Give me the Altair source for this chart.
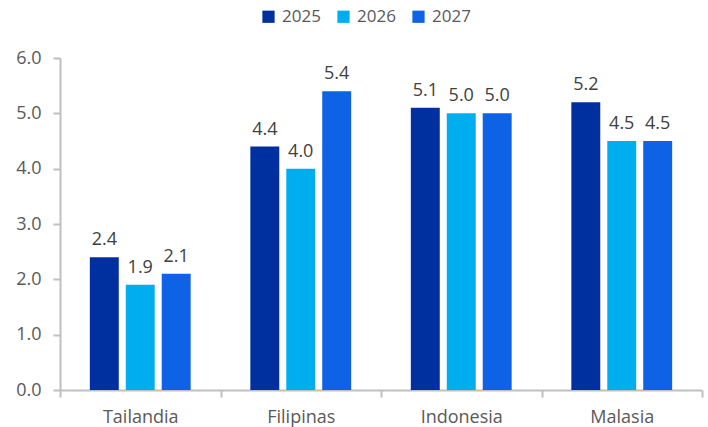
import altair as alt
import pandas as pd

countries = ["Tailandia", "Filipinas", "Indonesia", "Malasia"]
years = ["2025", "2026", "2027"]
v2025 = [2.4, 4.4, 5.1, 5.2]
v2026 = [1.9, 4.0, 5.0, 4.5]
v2027 = [2.1, 5.4, 5.0, 4.5]
colors = ["#0030a0", "#00aeef", "#0e62e6"]

rows = []
for i, c in enumerate(countries):
    for y, vals in zip(years, [v2025, v2026, v2027]):
        rows.append({"country": c, "year": y, "value": vals[i]})
df = pd.DataFrame(rows)

FONT = "Open Sans"
GRAY = "#595959"
AX = "#bfbfbf"

base = alt.Chart(df).encode(
    x=alt.X("country:N", sort=countries, title=None,
            scale=alt.Scale(paddingInner=0, paddingOuter=0),
            axis=alt.Axis(tickBand="extent", labelAngle=0, labelFontSize=18,
                          labelColor=GRAY, labelFont=FONT, domainColor=AX,
                          domainWidth=2, tickColor=AX, tickWidth=2, tickSize=7,
                          labelPadding=11)),
    xOffset=alt.XOffset("year:N", sort=years,
                        scale=alt.Scale(paddingInner=0.195, paddingOuter=0.83)),
)

bars = base.mark_bar().encode(
    y=alt.Y("value:Q", title=None,
            scale=alt.Scale(domain=[0, 6], nice=False),
            axis=alt.Axis(values=[0, 1, 2, 3, 4, 5, 6], format=".1f", grid=False,
                          labelFontSize=18, labelColor=GRAY, labelFont=FONT,
                          domainColor=AX, domainWidth=2, tickColor=AX,
                          tickWidth=2, tickSize=7, labelPadding=12)),
    color=alt.Color("year:N", sort=years,
                    scale=alt.Scale(domain=years, range=colors),
                    legend=alt.Legend(title=None, orient="none", direction="horizontal",
                                      legendX=200, legendY=-50, symbolType="square",
                                      symbolSize=150, symbolStrokeWidth=0,
                                      labelFontSize=17, labelColor=GRAY,
                                      labelFont=FONT, columnPadding=14,
                                      labelOffset=5)),
)

labels = base.mark_text(dy=-17, fontSize=18, color="#404040", font=FONT).encode(
    y=alt.Y("value:Q"),
    text=alt.Text("value:Q", format=".1f"),
)

chart = alt.layer(bars, labels).properties(
    width=642, height=332,
    autosize=alt.AutoSizeParams(type="none"),
    padding={"left": 60, "top": 58, "right": 6, "bottom": 37},
).configure_view(stroke=None)

chart.save("out.html", embed_options={"renderer": "svg", "actions": False})
